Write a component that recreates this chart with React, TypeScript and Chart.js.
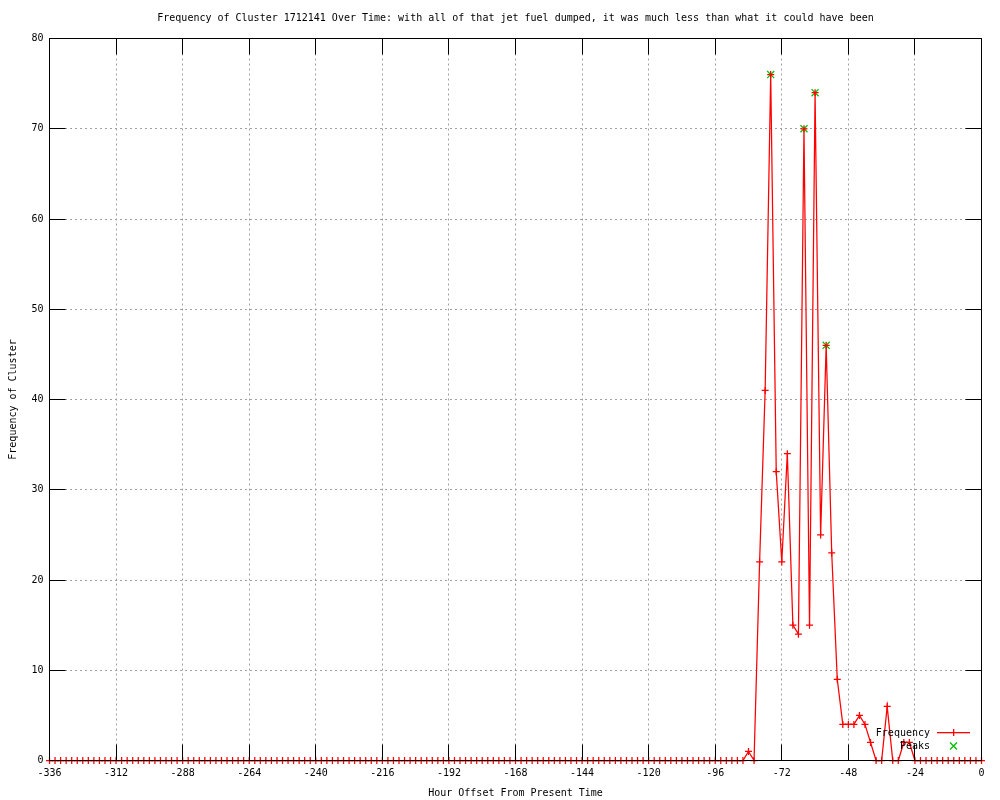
import React, { useEffect, useRef } from "react";
import { Chart, registerables } from "chart.js";

Chart.register(...registerables);

// Hour offsets sampled every 2 hours from -336 to 0
const HOURS: number[] = Array.from({ length: 169 }, (_, i) => -336 + 2 * i);

// Frequency per sample
const FREQUENCY: number[] = [
  // -336 .. -86 (126 samples)
  0, 0, 0, 0, 0, 0, 0, 0, 0, 0, 0, 0, 0, 0, 0, 0, 0, 0, 0, 0, 0,
  0, 0, 0, 0, 0, 0, 0, 0, 0, 0, 0, 0, 0, 0, 0, 0, 0, 0, 0, 0, 0,
  0, 0, 0, 0, 0, 0, 0, 0, 0, 0, 0, 0, 0, 0, 0, 0, 0, 0, 0, 0, 0,
  0, 0, 0, 0, 0, 0, 0, 0, 0, 0, 0, 0, 0, 0, 0, 0, 0, 0, 0, 0, 0,
  0, 0, 0, 0, 0, 0, 0, 0, 0, 0, 0, 0, 0, 0, 0, 0, 0, 0, 0, 0, 0,
  0, 0, 0, 0, 0, 0, 0, 0, 0, 0, 0, 0, 0, 0, 0, 0, 0, 0, 0, 0, 0,
  // -84 .. -24
  1, 0, 22, 41, 76, 32, 22, 34, 15, 14, 70, 15, 74, 25, 46, 23, 9, 4, 4, 4,
  5, 4, 2, 0, 0, 6, 0, 0, 2, 2, 0,
  // -22 .. 0
  0, 0, 0, 0, 0, 0, 0, 0, 0, 0, 0, 0,
];

const PEAK_HOURS: number[] = [-76, -64, -60, -56];
const PEAK_VALUES: number[] = [76, 70, 74, 46];

const X_MIN = -336;
const X_MAX = 0;
const X_STEP = 24;
const Y_MIN = 0;
const Y_MAX = 80;
const Y_STEP = 10;

const TITLE =
  "Frequency of Cluster 1712141 Over Time: with all of that jet fuel dumped, it was much less than what it could have been";
const X_TITLE = "Hour Offset From Present Time";
const Y_TITLE = "Frequency of Cluster";
const SERIES_LABELS = ["Frequency", "Peaks"];

const FONT = "DejaVu Sans Mono";
const RED = "#ff0000";
const GREEN = "#00c000";

const framePlugin = {
  id: "gnuFrame",
  afterDatasetsDraw(chart: any) {
    const { ctx, chartArea, scales } = chart;
    const { left, right, top, bottom } = chartArea;
    const x = scales.x;
    const y = scales.y;
    const crisp = (v: number) => Math.floor(v) + 0.5;
    const TL = 16;
    ctx.save();
    ctx.setLineDash([]);
    ctx.globalAlpha = 1;
    ctx.strokeStyle = "#000";
    ctx.lineWidth = 1;
    ctx.beginPath();
    for (const t of x.ticks) {
      const px = crisp(x.getPixelForValue(t.value));
      ctx.moveTo(px, bottom);
      ctx.lineTo(px, bottom - TL);
      ctx.moveTo(px, top);
      ctx.lineTo(px, top + TL);
    }
    for (const t of y.ticks) {
      const py = crisp(y.getPixelForValue(t.value));
      ctx.moveTo(left, py);
      ctx.lineTo(left + TL, py);
      ctx.moveTo(right, py);
      ctx.lineTo(right - TL, py);
    }
    ctx.stroke();
    ctx.strokeRect(crisp(left), crisp(top), crisp(right) - crisp(left), crisp(bottom) - crisp(top));

    // title
    ctx.fillStyle = "#000";
    ctx.font = `10px "${FONT}"`;
    ctx.textAlign = "center";
    ctx.textBaseline = "middle";
    ctx.fillText(TITLE, (left + right) / 2, 18);

    // legend
    ctx.textAlign = "right";
    ctx.fillText(SERIES_LABELS[0], 930, 733);
    ctx.fillText(SERIES_LABELS[1], 930, 746);
    ctx.fillStyle = RED;
    ctx.fillRect(937, 732, 33, 1.3);
    ctx.fillRect(953, 729, 1.3, 7);
    ctx.strokeStyle = GREEN;
    ctx.lineWidth = 1.3;
    ctx.beginPath();
    ctx.moveTo(950, 742.5);
    ctx.lineTo(957, 749.5);
    ctx.moveTo(957, 742.5);
    ctx.lineTo(950, 749.5);
    ctx.stroke();
    ctx.restore();
  },
};

export default function App() {
  const ref = useRef<HTMLCanvasElement | null>(null);

  useEffect(() => {
    if (!ref.current) return;
    const chart = new Chart(ref.current, {
      type: "line",
      data: {
        datasets: [
          {
            label: SERIES_LABELS[0],
            data: HOURS.map((h, i) => ({ x: h, y: FREQUENCY[i] })),
            borderColor: RED,
            backgroundColor: RED,
            borderWidth: 1.25,
            pointStyle: "cross",
            pointRadius: 3.5,
            pointBorderColor: RED,
            pointBorderWidth: 1.25,
            tension: 0,
            clip: false as any,
          },
          {
            label: SERIES_LABELS[1],
            data: PEAK_HOURS.map((h, i) => ({ x: h, y: PEAK_VALUES[i] })),
            showLine: false,
            borderColor: GREEN,
            backgroundColor: GREEN,
            pointStyle: "crossRot",
            pointRadius: 5,
            pointBorderColor: GREEN,
            pointBorderWidth: 1.25,
            clip: false as any,
          },
        ],
      },
      options: {
        animation: false,
        responsive: true,
        maintainAspectRatio: false,
        events: [],
        layout: { padding: { top: 38.5, right: 18.5, left: 0, bottom: 0 } },
        plugins: {
          legend: { display: false },
          tooltip: { enabled: false },
          title: { display: false },
        },
        scales: {
          x: {
            type: "linear",
            min: X_MIN,
            max: X_MAX,
            ticks: {
              stepSize: X_STEP,
              color: "#000",
              font: { family: FONT, size: 10 },
              padding: 7,
              maxRotation: 0,
              autoSkip: false,
            },
            grid: { color: "#a0a0a0", drawTicks: false, lineWidth: 1 },
            border: { display: false, dash: [2, 3] },
            title: {
              display: true,
              text: X_TITLE,
              color: "#000",
              font: { family: FONT, size: 10 },
              padding: { top: 0, bottom: 1 },
            },
            afterFit: (s: any) => {
              s.height = 39.5;
            },
          },
          y: {
            min: Y_MIN,
            max: Y_MAX,
            ticks: {
              stepSize: Y_STEP,
              color: "#000",
              font: { family: FONT, size: 10 },
              padding: 6,
            },
            grid: { color: "#a0a0a0", drawTicks: false, lineWidth: 1 },
            border: { display: false, dash: [2, 3] },
            title: {
              display: true,
              text: Y_TITLE,
              color: "#000",
              font: { family: FONT, size: 10 },
              padding: { top: 7, bottom: 0 },
            },
            afterFit: (s: any) => {
              s.width = 49.5;
            },
          },
        },
      },
      plugins: [framePlugin],
    });
    return () => chart.destroy();
  }, []);

  return (
    <div style={{ position: "fixed", left: 0, top: 0, width: 1000, height: 800, background: "#fff" }}>
      <canvas ref={ref} />
    </div>
  );
}
